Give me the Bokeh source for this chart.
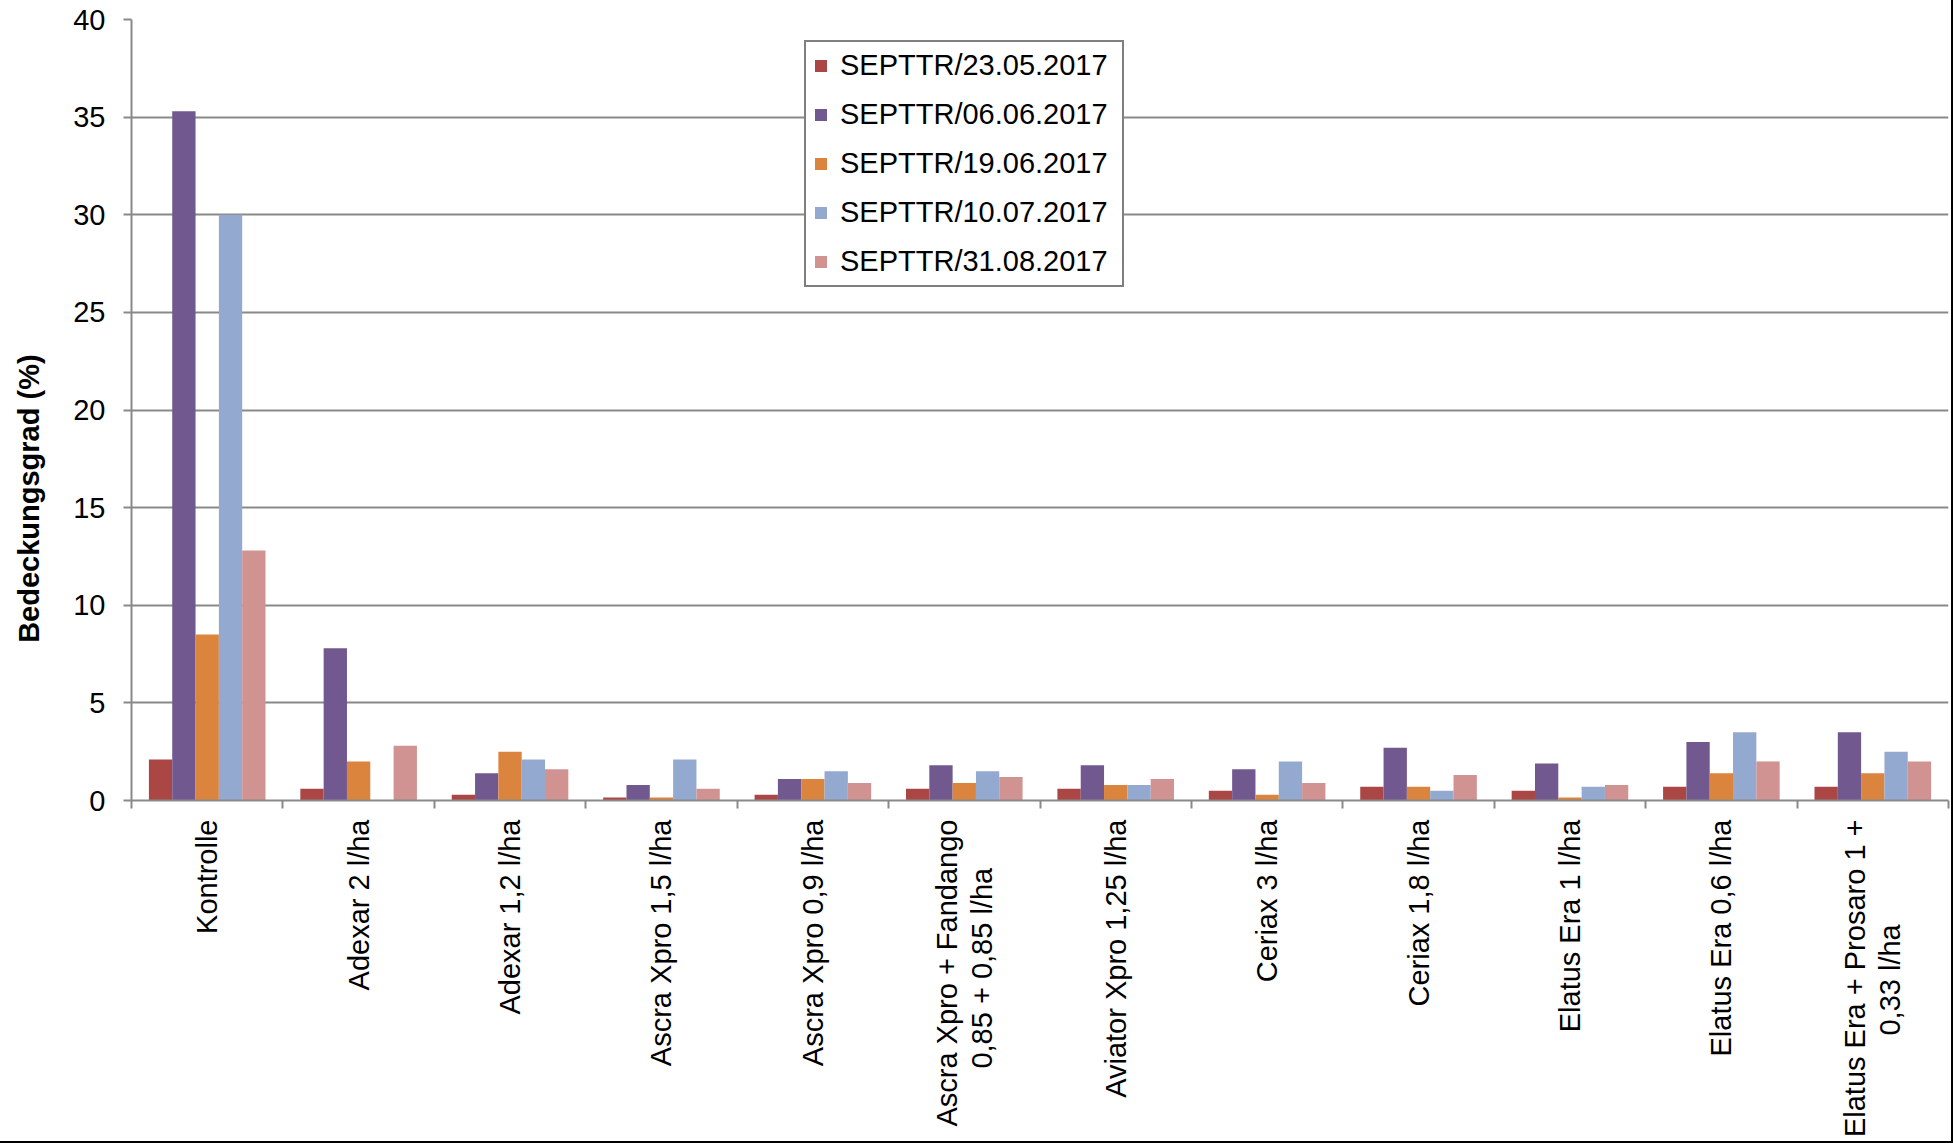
from bokeh.plotting import figure
from bokeh.models import Range1d, FixedTicker, Legend, LegendItem
from bokeh.embed import file_html
from bokeh.resources import INLINE

NB = "\u00a0"
categories = [
    "Kontrolle",
    "Adexar 2 l/ha",
    "Adexar 1,2 l/ha",
    "Ascra Xpro 1,5 l/ha",
    "Ascra Xpro 0,9 l/ha",
    "Ascra Xpro + Fandango\n0,85 + 0,85 l/ha" + NB * 6,
    "Aviator Xpro 1,25 l/ha",
    "Ceriax 3 l/ha",
    "Ceriax 1,8 l/ha",
    "Elatus Era 1 l/ha",
    "Elatus Era 0,6 l/ha",
    "Elatus Era + Prosaro 1 +\n0,33 l/ha" + NB * 13,
]
series_names = [
    "SEPTTR/23.05.2017",
    "SEPTTR/06.06.2017",
    "SEPTTR/19.06.2017",
    "SEPTTR/10.07.2017",
    "SEPTTR/31.08.2017",
]
s_2305 = [2.1, 0.6, 0.3, 0.15, 0.3, 0.6, 0.6, 0.5, 0.7, 0.5, 0.7, 0.7]
s_0606 = [35.3, 7.8, 1.4, 0.8, 1.1, 1.8, 1.8, 1.6, 2.7, 1.9, 3.0, 3.5]
s_1906 = [8.5, 2.0, 2.5, 0.15, 1.1, 0.9, 0.8, 0.3, 0.7, 0.15, 1.4, 1.4]
s_1007 = [30.0, 0.0, 2.1, 2.1, 1.5, 1.5, 0.8, 2.0, 0.5, 0.7, 3.5, 2.5]
s_3108 = [12.8, 2.8, 1.6, 0.6, 0.9, 1.2, 1.1, 0.9, 1.3, 0.8, 2.0, 2.0]
y_ticks = [0, 5, 10, 15, 20, 25, 30, 35, 40]
y_label = "Bedeckungsgrad (%)"

series = [s_2305, s_0606, s_1906, s_1007, s_3108]
colors = ["#AA4643", "#71588F", "#DB843D", "#93A9CF", "#D19392"]

FONT = "Liberation Sans"
FS = "29px"
GRID = "#898989"

n = len(categories)
p = figure(frame_width=1817, frame_height=781, output_backend="svg", toolbar_location=None,
           x_range=Range1d(0, n), y_range=Range1d(0, 40),
           min_border_left=131, min_border_right=3, min_border_top=19, min_border_bottom=341)
p.outline_line_color = None
p.background_fill_color = "white"
p.border_fill_color = "white"
p.styles = {"border-right": "2px solid black", "border-bottom": "3px solid black",
            "box-sizing": "border-box"}

bw = 0.154
items = []
for k, (vals, col, name) in enumerate(zip(series, colors, series_names)):
    xs = [i + 0.5 + (k - 2) * bw for i in range(n)]
    r = p.vbar(x=xs, top=vals, bottom=0, width=bw, fill_color=col, line_color=None)
    items.append(LegendItem(label=name, renderers=[r]))

# y axis
p.yaxis.ticker = FixedTicker(ticks=y_ticks)
p.yaxis.axis_line_color = GRID
p.yaxis.axis_line_width = 2
p.yaxis.major_tick_line_color = GRID
p.yaxis.major_tick_line_width = 2
p.yaxis.major_tick_out = 8
p.yaxis.major_tick_in = 0
p.yaxis.minor_tick_line_color = None
p.yaxis.major_label_standoff = 18
p.yaxis.major_label_text_font = FONT
p.yaxis.major_label_text_font_size = FS
p.yaxis.major_label_text_color = "black"
# title shifted downward like the reference (trailing no-break spaces)
p.yaxis.axis_label = y_label + NB * 22
p.yaxis.axis_label_text_font = FONT
p.yaxis.axis_label_text_font_size = FS
p.yaxis.axis_label_text_font_style = "bold"
p.yaxis.axis_label_text_color = "black"
p.yaxis.axis_label_standoff = 25

# x axis
p.xaxis.ticker = FixedTicker(ticks=[i + 0.5 for i in range(n)],
                             minor_ticks=[float(i) for i in range(n + 1)])
p.xaxis.major_label_overrides = {i + 0.5: categories[i] for i in range(n)}
p.xaxis.major_label_orientation = 1.5707963267948966
p.xaxis.axis_line_color = GRID
p.xaxis.axis_line_width = 2
p.xaxis.major_tick_line_color = None
p.xaxis.major_tick_out = 0
p.xaxis.major_tick_in = 0
p.xaxis.minor_tick_line_color = GRID
p.xaxis.minor_tick_line_width = 2
p.xaxis.minor_tick_out = 8
p.xaxis.minor_tick_in = 0
p.xaxis.major_label_standoff = 11
p.xaxis.major_label_text_font = FONT
p.xaxis.major_label_text_font_size = FS
p.xaxis.major_label_text_line_height = 1.1
p.xaxis.major_label_text_color = "black"

p.xgrid.grid_line_color = None
p.ygrid.ticker = FixedTicker(ticks=y_ticks)
p.ygrid.grid_line_color = GRID
p.ygrid.grid_line_width = 2

legend = Legend(items=items, location=(673, 513), orientation="vertical",
                label_text_font=FONT, label_text_font_size=FS, label_text_color="black",
                glyph_width=15, glyph_height=15, label_standoff=12, label_width=275,
                padding=7, spacing=16, margin=0,
                border_line_color="black", border_line_width=2,
                background_fill_color="white", background_fill_alpha=1.0)
p.add_layout(legend, "center")

open("out.html", "w").write(file_html(p, INLINE))
